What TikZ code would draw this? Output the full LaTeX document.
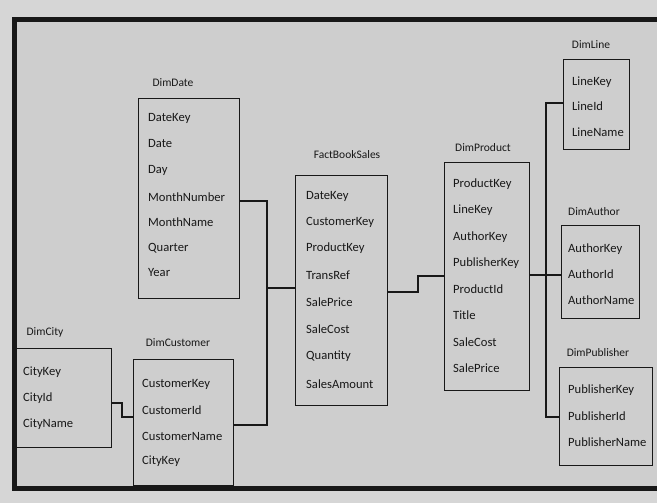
\documentclass[tikz,border=0pt]{standalone}
\usepackage{fontspec}
\setmainfont{Carlito}
\definecolor{bg}{RGB}{206,206,206}
\definecolor{outerbg}{RGB}{214,214,214}
\definecolor{ink}{RGB}{24,24,24}
\begin{document}
\begin{tikzpicture}[x=1pt,y=-1pt,
  tbl/.style={draw=ink,line width=1.4pt,rectangle,anchor=north west,inner sep=0pt},
  fld/.style={anchor=west,inner sep=0pt,text=ink,font=\fontsize{12.6}{15}\selectfont},
  ttl/.style={anchor=center,inner sep=0pt,text=ink,font=\fontsize{11.5}{13}\selectfont},
  conn/.style={draw=ink,line width=1.2pt}]
\useasboundingbox (0,0) rectangle (657,503);
\fill[outerbg] (0,0) rectangle (657,503);
\fill[bg] (14,20) rectangle (680,488);
\draw[ink,line width=5pt] (680,20) -- (14,20) -- (14,488) -- (680,488);

% DimDate
\node[tbl,minimum width=101,minimum height=200] (date) at (138,98) {};
\node[ttl] (dateT) at (173,83) {DimDate};
\node[fld] (date1) at (148,118) {DateKey};
\node[fld] (date2) at (148,144) {Date};
\node[fld] (date3) at (148,170) {Day};
\node[fld] (date4) at (148,197) {MonthNumber};
\node[fld] (date5) at (148,222) {MonthName};
\node[fld] (date6) at (148,248) {Quarter};
\node[fld] (date7) at (148,273) {Year};

% DimCity
\node[tbl,minimum width=96,minimum height=99] (city) at (15,348) {};
\node[ttl] (cityT) at (45,332) {DimCity};
\node[fld] (city1) at (23,372) {CityKey};
\node[fld] (city2) at (23,398) {CityId};
\node[fld] (city3) at (23,424) {CityName};

% DimCustomer
\node[tbl,minimum width=100,minimum height=126] (cust) at (133,359) {};
\node[ttl] (custT) at (178,343) {DimCustomer};
\node[fld] (cust1) at (142,384) {CustomerKey};
\node[fld] (cust2) at (142,410) {CustomerId};
\node[fld] (cust3) at (142,436) {CustomerName};
\node[fld] (cust4) at (142,461) {CityKey};

% FactBookSales
\node[tbl,minimum width=92,minimum height=230] (fact) at (295,175) {};
\node[ttl] (factT) at (347,155) {FactBookSales};
\node[fld] (fact1) at (306,196) {DateKey};
\node[fld] (fact2) at (306,222) {CustomerKey};
\node[fld] (fact3) at (306,248) {ProductKey};
\node[fld] (fact4) at (306,275) {TransRef};
\node[fld] (fact5) at (306,302) {SalePrice};
\node[fld] (fact6) at (306,329) {SaleCost};
\node[fld] (fact7) at (306,356) {Quantity};
\node[fld] (fact8) at (306,384) {SalesAmount};

% DimProduct
\node[tbl,minimum width=85,minimum height=228] (prod) at (444,162) {};
\node[ttl] (prodT) at (483,148) {DimProduct};
\node[fld] (prod1) at (453,184) {ProductKey};
\node[fld] (prod2) at (453,210) {LineKey};
\node[fld] (prod3) at (453,237) {AuthorKey};
\node[fld] (prod4) at (453,263) {PublisherKey};
\node[fld] (prod5) at (453,289) {ProductId};
\node[fld] (prod6) at (453,315) {Title};
\node[fld] (prod7) at (453,342) {SaleCost};
\node[fld] (prod8) at (453,368) {SalePrice};

% DimLine
\node[tbl,minimum width=66,minimum height=90] (line) at (563,59) {};
\node[ttl] (lineT) at (591,45) {DimLine};
\node[fld] (line1) at (572,82) {LineKey};
\node[fld] (line2) at (572,106) {LineId};
\node[fld] (line3) at (572,132) {LineName};

% DimAuthor
\node[tbl,minimum width=78,minimum height=93] (auth) at (561,225) {};
\node[ttl] (authT) at (594,212) {DimAuthor};
\node[fld] (auth1) at (568,249) {AuthorKey};
\node[fld] (auth2) at (568,274) {AuthorId};
\node[fld] (auth3) at (568,300) {AuthorName};

% DimPublisher
\node[tbl,minimum width=93,minimum height=98] (pub) at (559,367) {};
\node[ttl] (pubT) at (598,353) {DimPublisher};
\node[fld] (pub1) at (568,390) {PublisherKey};
\node[fld] (pub2) at (568,416) {PublisherId};
\node[fld] (pub3) at (568,442) {PublisherName};

% connectors
\coordinate (jd) at (267,201);
\coordinate (jf) at (267,288);
\coordinate (jc) at (267,425);
\draw[conn] (date.east |- jd) -- (jd) -- (jc) -- (cust.east |- jc);
\draw[conn] (jf) -- (fact.west |- jf);

\coordinate (k1) at (122,403);
\coordinate (k2) at (122,417);
\draw[conn] (city.east |- k1) -- (k1) -- (k2) -- (cust.west |- k2);

\coordinate (p1) at (418,292);
\coordinate (p2) at (418,276);
\draw[conn] (fact.east |- p1) -- (p1) -- (p2) -- (prod.west |- p2);

\coordinate (b1) at (546,103);
\coordinate (b2) at (546,275);
\coordinate (b3) at (546,417);
\draw[conn] (prod.east |- b2) -- (b2) -- (auth.west |- b2);
\draw[conn] (line.west |- b1) -- (b1) -- (b3) -- (pub.west |- b3);
\end{tikzpicture}
\end{document}
